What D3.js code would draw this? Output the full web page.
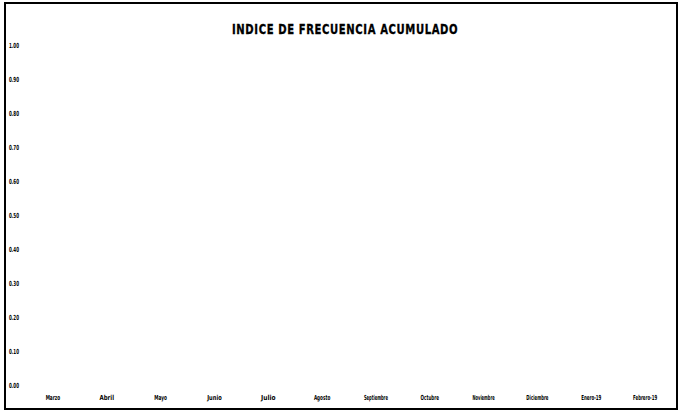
<!DOCTYPE html>
<html>
<head>
<meta charset="utf-8">
<script src="https://cdn.jsdelivr.net/npm/d3@7"></script>
<style>
  html, body { margin: 0; padding: 0; background: #fff; }
  svg { display: block; }
  .lbl { font-family: "Liberation Sans Narrow", "DejaVu Sans Condensed", "Liberation Sans", sans-serif; font-weight: bold; fill: #000; }
</style>
</head>
<body>
<svg id="chart" width="681" height="415"></svg>
<script>
// Months on the horizontal axis
const categories = ["Marzo", "Abril", "Mayo", "Junio", "Julio", "Agosto", "Septiembre",
                    "Octubre", "Noviembre", "Diciembre", "Enero-19", "Febrero-19"];
// Accumulated frequency index per month (no values recorded yet)
const indiceValues = [];
// Vertical axis ticks
const yTicks = [0, 0.1, 0.2, 0.3, 0.4, 0.5, 0.6, 0.7, 0.8, 0.9, 1.0];
const title = "INDICE DE FRECUENCIA ACUMULADO";

const frame = { left: 5, top: 3, right: 677, bottom: 409 };

const svg = d3.select("#chart");

const x = d3.scaleBand().domain(categories).range([26, 672]);
const y = d3.scaleLinear().domain([0, 1]).range([385, 45]);

// Outer frame
svg.append("rect")
  .attr("x", frame.left).attr("y", frame.top)
  .attr("width", frame.right - frame.left)
  .attr("height", frame.bottom - frame.top)
  .attr("fill", "none").attr("stroke", "#000").attr("stroke-width", 2);

// Title: narrow letters, spread out across its width
svg.append("text").attr("class", "lbl")
  .attr("x", 232).attr("y", 34)
  .attr("font-size", 14)
  .attr("font-weight", "normal")
  .attr("stroke", "#000").attr("stroke-width", 0.3)
  .attr("transform", "translate(232,0) scale(0.8,1) translate(-232,0)")
  .attr("textLength", 282).attr("lengthAdjust", "spacing")
  .text(title);

// Y axis labels (inside the frame, left-aligned)
const yAxis = d3.axisRight(y).tickValues(yTicks).tickSize(0).tickFormat(d3.format(".2f"));
const gy = svg.append("g").attr("transform", `translate(${frame.left + 3},0)`).call(yAxis);
gy.select(".domain").remove();
gy.selectAll("text").attr("class", "lbl").attr("x", 1).attr("font-size", 7)
  .attr("textLength", 10).attr("lengthAdjust", "spacingAndGlyphs");

// X axis labels
const xAxis = d3.axisBottom(x).tickSize(0);
const gx = svg.append("g").attr("transform", `translate(0,395)`).call(xAxis);
gx.select(".domain").remove();
gx.selectAll("text").attr("class", "lbl").attr("dy", 0).attr("y", 0).attr("dominant-baseline", "hanging")
  .attr("font-size", 7)
  .each(function(d) {
    const n = d.length;
    d3.select(this).attr("textLength", Math.min(24, 5 + n * 1.9)).attr("lengthAdjust", "spacingAndGlyphs");
  });

// Series line (drawn from the monthly values)
const line = d3.line().x(d => x(d.mes) + x.bandwidth() / 2).y(d => y(d.valor));
svg.append("path")
  .datum(indiceValues.map((v, i) => ({ mes: categories[i], valor: v })))
  .attr("fill", "none").attr("stroke", "#000").attr("stroke-width", 1.5)
  .attr("d", line);
</script>
</body>
</html>
